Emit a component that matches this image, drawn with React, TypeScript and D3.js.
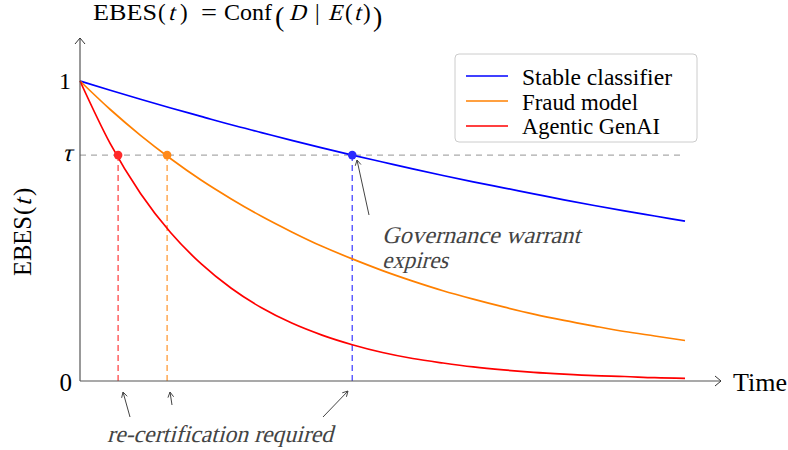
import React from "react";
import * as d3 from "d3";

const times = [0, 0.5, 1, 1.5, 2, 2.5, 3, 3.5, 4, 4.5, 5, 5.5, 6, 6.5, 7, 7.5, 8, 8.5, 9, 9.5, 10];
const stableValues = [1, 0.969, 0.939, 0.91, 0.882, 0.854, 0.828, 0.802, 0.777, 0.753, 0.73, 0.707, 0.685, 0.664, 0.644, 0.624, 0.604, 0.585, 0.567, 0.55, 0.533];
const fraudValues = [1, 0.905, 0.819, 0.741, 0.67, 0.607, 0.549, 0.497, 0.449, 0.407, 0.368, 0.333, 0.301, 0.273, 0.247, 0.223, 0.202, 0.183, 0.165, 0.15, 0.135];
const genaiValues = [1, 0.791, 0.625, 0.494, 0.391, 0.309, 0.244, 0.193, 0.153, 0.121, 0.095, 0.075, 0.06, 0.047, 0.037, 0.029, 0.023, 0.018, 0.015, 0.011, 0.009];
const seriesNames = ["Stable classifier", "Fraud model", "Agentic GenAI"];
const seriesColors = ["#0000ff", "#ff8000", "#ff0000"];
const markerColors = ["#2a2aff", "#ff8a1a", "#ff2a2a"];
const dashColors = ["#5555ff", "#ffa347", "#ff5555"];
const crossTimes = [4.5, 1.44, 0.63];
const tau = 0.753;

const W = 788, H = 450;
const x = d3.scaleLinear().domain([0, 10]).range([80, 685]);
const y = d3.scaleLinear().domain([0, 1]).range([381, 81]);

const SERIF = "Liberation Serif";

function T(props: any) {
  const { italic, w, children, x: px, y: py, ...rest } = props;
  const t = (
    <text
      x={italic ? 0 : px}
      y={italic ? 0 : py}
      fontFamily={SERIF}
      textLength={w}
      lengthAdjust={w ? "spacingAndGlyphs" : undefined}
      {...rest}
    >
      {children}
    </text>
  );
  if (!italic) return t;
  return <g transform={`translate(${px},${py}) skewX(-15)`}>{t}</g>;
}

export default function App() {
  const allSeries = [stableValues, fraudValues, genaiValues];
  const line = d3
    .line<number>()
    .x((_, i) => x(times[i]))
    .y((d) => y(d))
    .curve(d3.curveMonotoneX);
  const grey = "#444";
  const arrow = (x1: number, y1: number, x2: number, y2: number, key: string) => {
    const ang = Math.atan2(y2 - y1, x2 - x1);
    const L = 6, A = 0.5;
    const p1 = [x2 - L * Math.cos(ang - A), y2 - L * Math.sin(ang - A)];
    const p2 = [x2 - L * Math.cos(ang + A), y2 - L * Math.sin(ang + A)];
    return (
      <g key={key} stroke={grey} strokeWidth={1} fill="none">
        <line x1={x1} y1={y1} x2={x2} y2={y2} />
        <path d={`M${p1[0]},${p1[1]} L${x2},${y2} L${p2[0]},${p2[1]}`} />
      </g>
    );
  };
  const legendWidths = [150, 116, 138];
  const ty = 20;
  return (
    <svg width={W} height={H} style={{ position: "absolute", left: 0, top: 0 }}>
      <rect width={W} height={H} fill="#fff" />
      {/* title */}
      <g fontSize={23} fill="#000">
        <T x={93} y={ty} w={64}>EBES</T>
        <T x={158} y={ty}>(</T>
        <T x={168} y={ty} italic>t</T>
        <T x={180} y={ty}>)</T>
        <T x={201} y={ty} w={16}>=</T>
        <T x={224} y={ty} w={48}>Conf</T>
        <T x={275} y={ty + 6} fontSize={28}>(</T>
        <T x={289} y={ty} italic>D</T>
        <T x={315} y={ty}>|</T>
        <T x={328} y={ty} italic>E</T>
        <T x={345} y={ty}>(</T>
        <T x={354} y={ty} italic>t</T>
        <T x={363} y={ty}>)</T>
        <T x={373} y={ty + 6} fontSize={28}>)</T>
      </g>
      {/* tau dashed */}
      <line x1={80} x2={680} y1={y(tau)} y2={y(tau)} stroke="#aaa" strokeWidth={1.2} strokeDasharray="6,5" />
      {/* vertical dashed */}
      {crossTimes.map((t, i) => (
        <line key={"v" + i} x1={x(t)} x2={x(t)} y1={y(tau)} y2={y(0)} stroke={dashColors[i]} strokeWidth={1.4} strokeDasharray="6,4" />
      ))}
      {/* curves */}
      {allSeries.map((s, i) => (
        <path key={"s" + i} d={line(s) || ""} fill="none" stroke={seriesColors[i]} strokeWidth={1.7} />
      ))}
      {/* axes */}
      <line x1={80} x2={80} y1={381} y2={38} stroke="#555" strokeWidth={1.2} />
      <path d="M75,44 L80,38 L85,44" fill="none" stroke="#333" strokeWidth={1} />
      <line x1={80} x2={721} y1={381} y2={381} stroke="#555" strokeWidth={1.2} />
      <path d="M715,376 L721,381 L715,386" fill="none" stroke="#333" strokeWidth={1} />
      {/* markers */}
      {crossTimes.map((t, i) => (
        <circle key={"c" + i} cx={x(t)} cy={y(tau)} r={4.3} fill={markerColors[i]} />
      ))}
      {/* tick labels */}
      <T x={71} y={89} fontSize={24} textAnchor="end">1</T>
      <T x={72} y={161} fontSize={25} textAnchor="end" italic>τ</T>
      <T x={72} y={391} fontSize={25} textAnchor="end">0</T>
      <T x={733} y={391} fontSize={25} w={54}>Time</T>
      <g transform="translate(31,232) rotate(-90)" fontSize={25}>
        <T x={-44} y={0} w={60}>EBES</T>
        <T x={17} y={0}>(</T>
        <T x={26} y={0} italic>t</T>
        <T x={36} y={0}>)</T>
      </g>
      {/* legend */}
      <rect x={455} y={54} width={242} height={88} rx={4} fill="#fff" stroke="#ccc" strokeWidth={1} />
      {seriesNames.map((n, i) => (
        <g key={"l" + i}>
          <line x1={466} x2={508} y1={76 + i * 25} y2={76 + i * 25} stroke={seriesColors[i]} strokeWidth={1.7} />
          <T x={522} y={85 + i * 24.5} fontSize={24} w={legendWidths[i]}>{n}</T>
        </g>
      ))}
      {/* annotations */}
      {arrow(369, 215, 357, 160, "a0")}
      <T x={382} y={243} fontSize={24} italic fill={grey} w={198}>Governance warrant</T>
      <T x={382} y={268} fontSize={24} italic fill={grey} w={66}>expires</T>
      {arrow(130, 417, 123, 392, "a1")}
      {arrow(172, 405, 170, 392, "a2")}
      {arrow(323, 417, 348, 391, "a3")}
      <T x={107} y={442} fontSize={24} italic fill={grey} w={226}>re-certification required</T>
    </svg>
  );
}
